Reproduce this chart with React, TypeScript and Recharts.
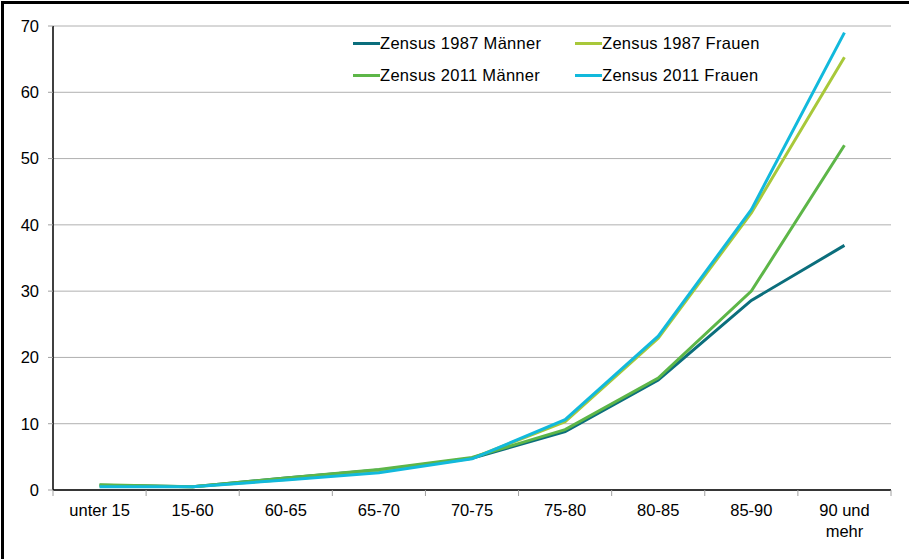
import { LineChart, Line, XAxis, YAxis, CartesianGrid, Legend } from 'recharts';

const CATEGORIES = ['unter 15', '15-60', '60-65', '65-70', '70-75', '75-80', '80-85', '85-90', '90 und mehr'];
const MEN_1987 = [0.7, 0.5, 1.8, 3.0, 4.8, 8.8, 16.6, 28.6, 36.9];
const WOMEN_1987 = [0.6, 0.5, 1.6, 2.8, 4.8, 10.3, 22.9, 41.8, 65.3];
const MEN_2011 = [0.8, 0.5, 1.8, 3.1, 4.9, 9.1, 16.9, 30.0, 52.0];
const WOMEN_2011 = [0.5, 0.5, 1.5, 2.6, 4.7, 10.6, 23.2, 42.3, 69.0];
const Y_TICKS = [0, 10, 20, 30, 40, 50, 60, 70];

const SERIES = [
  { key: 'm1987', name: 'Zensus 1987 Männer', color: '#0b6e7c' },
  { key: 'f1987', name: 'Zensus 1987 Frauen', color: '#a8c83a' },
  { key: 'm2011', name: 'Zensus 2011 Männer', color: '#5db648' },
  { key: 'f2011', name: 'Zensus 2011 Frauen', color: '#12b9dc' },
];

const data = CATEGORIES.map((name, i) => ({
  name,
  m1987: MEN_1987[i],
  f1987: WOMEN_1987[i],
  m2011: MEN_2011[i],
  f2011: WOMEN_2011[i],
}));

const W = 909;
const H = 559;
const MARGIN = { top: 26, right: 18, left: 0, bottom: 19 };
const Y_WIDTH = 53;
const X_HEIGHT = 50;
const FONT = 'Liberation Sans, Arial, sans-serif';
const band = (W - MARGIN.left - MARGIN.right - Y_WIDTH) / CATEGORIES.length;

function XTick(props: any) {
  const { x, y, payload, index } = props;
  const words = String(payload.value) === '90 und mehr' ? ['90 und', 'mehr'] : [String(payload.value)];
  return (
    <g>
      <line x1={x - band / 2} x2={x - band / 2} y1={y} y2={y + 6} stroke="#a0a0a0" />
      {index === CATEGORIES.length - 1 && (
        <line x1={x + band / 2} x2={x + band / 2} y1={y} y2={y + 6} stroke="#a0a0a0" />
      )}
      {words.map((w, i) => (
        <text key={i} x={x} y={y + 26 + i * 21} textAnchor="middle" fontSize={16.5} fontFamily={FONT} fill="#000">
          {w}
        </text>
      ))}
    </g>
  );
}

function LegendBox() {
  return (
    <div style={{ display: 'grid', gridTemplateColumns: '222px 222px', rowGap: 0, fontFamily: FONT, fontSize: 16.5 }}>
      {SERIES.map(s => (
        <div key={s.key} style={{ display: 'flex', alignItems: 'center', height: 31.5 }}>
          <span style={{ display: 'inline-block', width: 27, height: 3, background: s.color }} />
          <span style={{ color: '#000', letterSpacing: 0.3 }}>{s.name}</span>
        </div>
      ))}
    </div>
  );
}

export default function App() {
  return (
    <div style={{ position: 'absolute', left: 0, top: 0, width: W, height: H, overflow: 'hidden', background: '#fff' }}>
      <div style={{ position: 'absolute', left: 1, top: 1, width: W + 20, height: H + 20, border: '3px solid #000', boxSizing: 'border-box' }} />
      <div style={{ position: 'absolute', left: 0, top: 0 }}>
        <LineChart width={W} height={H} data={data} margin={MARGIN}>
          <CartesianGrid vertical={false} stroke="#b0b0b0" />
          <XAxis
            dataKey="name"
            height={X_HEIGHT}
            interval={0}
            padding={{ left: band / 2, right: band / 2 }}
            tickLine={false}
            tickSize={0}
            tickMargin={0}
            axisLine={{ stroke: '#000', strokeWidth: 1.5 }}
            tick={<XTick />}
          />
          <YAxis
            width={Y_WIDTH}
            domain={[0, 70]}
            ticks={Y_TICKS}
            interval={0}
            tickSize={5}
            tickMargin={9}
            axisLine={{ stroke: '#000', strokeWidth: 1.5 }}
            tickLine={{ stroke: '#a0a0a0' }}
            tick={{ fontSize: 16.5, fontFamily: FONT, fill: '#000' }}
          />
          <YAxis
            yAxisId="right"
            orientation="right"
            width={0}
            domain={[0, 70]}
            tick={false}
            tickLine={false}
            axisLine={{ stroke: '#a8a8a8', strokeWidth: 1.5 }}
          />
          <Legend
            layout="vertical"
            verticalAlign="middle"
            align="center"
            content={<LegendBox />}
            wrapperStyle={{ top: 28, left: 353, width: 450 }}
          />
          {SERIES.map(s => (
            <Line
              key={s.key}
              type="linear"
              dataKey={s.key}
              name={s.name}
              stroke={s.color}
              strokeWidth={3}
              dot={false}
              activeDot={false}
              isAnimationActive={false}
            />
          ))}
        </LineChart>
      </div>
    </div>
  );
}
